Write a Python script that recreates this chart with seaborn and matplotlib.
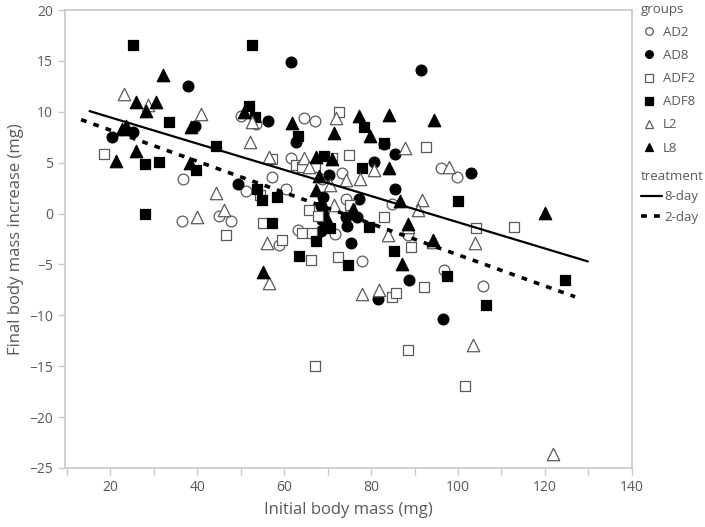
import numpy as np
import pandas as pd
import matplotlib
matplotlib.use('Agg')
import matplotlib.pyplot as plt
from matplotlib.lines import Line2D
from matplotlib.ticker import MultipleLocator
import seaborn as sns

# values
ad2_x = [36.8, 36.4, 44.9, 47.8, 50.0, 53.4, 64.5, 67.1, 61.5, 57.3, 73.4, 51.3, 60.4, 84.9, 74.2,
         88.6, 63.2, 71.8, 58.8, 77.8, 96.1, 99.7, 96.8, 105.7, 68.8]
ad2_y = [3.4, -0.7, -0.2, -0.7, 9.6, 8.8, 9.35, 9.1, 5.5, 3.6, 4.0, 2.2, 2.4, 0.9, 1.4,
         -2.1, -1.65, -2.0, -3.1, -4.7, 4.5, 3.6, -5.5, -7.1, 3.4]

ad8_x = [37.8, 39.4, 25.1, 20.4, 49.4, 61.5, 91.5, 56.3, 62.8, 83.0, 85.5, 80.7, 70.3, 69.0, 85.5,
         77.3, 76.7, 74.2, 74.5, 68.4, 75.3, 88.7, 81.7, 103.0, 96.5, 68.4, 69.0, 68.6, 69.7]
ad8_y = [12.5, 8.6, 8.0, 7.5, 2.9, 14.9, 14.1, 9.1, 7.0, 6.8, 5.85, 5.1, 3.8, 1.6, 2.4,
         1.4, -0.3, -0.3, -1.2, -1.7, -2.9, -6.5, -8.4, 4.0, -10.35, 0.7, 0.1, -0.6, -1.2]

adf2_x = [18.4, 46.5, 72.7, 92.6, 57.2, 62.7, 64.2, 67.1, 71.1, 74.9, 54.4, 83.0, 75.1, 65.7, 67.8,
          89.2, 55.1, 64.2, 66.5, 59.5, 66.1, 72.4, 92.3, 84.9, 85.7, 104.1, 113.0, 67.2, 88.4, 101.7]
adf2_y = [5.9, -2.1, 10.0, 6.5, 5.4, 4.8, 4.6, 4.6, 5.5, 5.8, 1.8, -0.3, 0.8, 0.35, -0.2,
          -3.3, -0.9, -1.9, -1.9, -2.55, -4.6, -4.3, -7.25, -8.2, -7.8, -1.4, -1.3, -15.0, -13.4, -16.9]

adf8_x = [25.1, 33.5, 44.2, 27.9, 31.1, 39.8, 27.9, 52.5, 51.8, 53.2, 78.4, 63.2, 83.0, 69.1, 78.0,
          53.8, 54.9, 58.4, 79.5, 85.3, 57.1, 70.5, 67.3, 63.4, 74.7, 99.9, 97.4, 106.5, 124.7]
adf8_y = [16.6, 9.0, 6.6, 4.9, 5.1, 4.3, 0.0, 16.6, 10.6, 9.5, 8.5, 7.6, 6.9, 5.7, 4.5,
          2.4, 1.3, 1.6, -1.3, -3.7, -0.9, -1.4, -2.7, -4.2, -5.05, 1.2, -6.1, -9.0, -6.5]

l2_x = [23.1, 28.6, 40.8, 44.2, 39.9, 46.1, 52.7, 72.0, 52.1, 87.8, 56.4, 64.5, 65.7, 80.7, 74.2,
        77.4, 70.5, 91.7, 90.9, 71.5, 84.0, 88.5, 56.1, 56.5, 78.0, 81.8, 98.0, 94.2, 104.0, 103.4, 121.8]
l2_y = [11.7, 10.65, 9.8, 2.0, -0.3, 0.3, 9.0, 9.35, 7.0, 6.4, 5.6, 5.5, 4.6, 4.3, 3.3,
        3.4, 2.8, 1.3, 0.3, 0.8, -2.1, -1.3, -2.9, -6.8, -7.9, -7.5, 4.6, -2.8, -2.9, -12.9, -23.6]

l8_x = [25.9, 28.2, 30.5, 32.2, 38.6, 22.7, 23.6, 21.2, 25.8, 38.2, 50.7, 61.8, 77.3, 84.1, 79.7,
        71.5, 67.3, 70.9, 84.2, 68.0, 67.3, 86.7, 75.9, 88.4, 55.1, 87.2, 94.6, 120.0, 94.2, 70.1]
l8_y = [11.0, 10.1, 11.0, 13.6, 8.5, 8.3, 8.6, 5.2, 6.1, 5.0, 10.0, 8.9, 9.6, 9.7, 7.6,
        7.9, 5.6, 5.4, 4.5, 3.7, 2.3, 1.2, 0.4, -1.0, -5.7, -5.0, 9.2, 0.1, -2.6, -0.7]

groups = ['AD2', 'AD8', 'ADF2', 'ADF8', 'L2', 'L8']
group_x = [ad2_x, ad8_x, adf2_x, adf8_x, l2_x, l8_x]
group_y = [ad2_y, ad8_y, adf2_y, adf8_y, l2_y, l8_y]
group_treatment = ['2-day', '8-day', '2-day', '8-day', '2-day', '8-day']
treatments = ['8-day', '2-day']

frames = []
for g, xs, ys, t in zip(groups, group_x, group_y, group_treatment):
    frames.append(pd.DataFrame({'mass': xs, 'increase': ys, 'group': g, 'treatment': t}))
df = pd.concat(frames, ignore_index=True)

sns.set_style('white')
plt.rcParams['font.family'] = ['Open Sans', 'DejaVu Sans']
grey = '#595959'
edge = '#5a5a5a'

styles = {
    'AD2': dict(marker='o', s=60, color='white', edgecolor=edge),
    'AD8': dict(marker='o', s=60, color='black', edgecolor='black'),
    'ADF2': dict(marker='s', s=50, color='white', edgecolor=edge),
    'ADF8': dict(marker='s', s=50, color='black', edgecolor='black'),
    'L2': dict(marker='^', s=80, color='white', edgecolor=edge),
    'L8': dict(marker='^', s=80, color='black', edgecolor='black'),
}
line_styles = {'8-day': dict(ls='-', lw=1.6), '2-day': dict(ls=(0, (1.6, 2.0)), lw=2.6)}

fig = plt.figure(figsize=(7.05, 5.27), dpi=100)
ax = fig.add_axes([0.092, 0.112, 0.804, 0.869])

for g in groups:
    sub = df[df['group'] == g]
    sns.scatterplot(data=sub, x='mass', y='increase', linewidth=0.9, ax=ax, legend=False,
                    zorder=2, **styles[g])

for t in treatments:
    sub = df[df['treatment'] == t]
    slope, icpt = np.polyfit(sub['mass'], sub['increase'], 1)
    pad = 0.05 * (sub['mass'].max() - sub['mass'].min())
    xs = np.array([sub['mass'].min() - pad, sub['mass'].max() + pad])
    ax.plot(xs, slope * xs + icpt, color='black', zorder=3, **line_styles[t])

ax.set_xlim(9.5, 140)
ax.set_ylim(-25, 20)
ax.xaxis.set_minor_locator(MultipleLocator(10))
ax.yaxis.set_major_locator(MultipleLocator(5))
ax.set_xticks([20, 40, 60, 80, 100, 120, 140])
for sp in ax.spines.values():
    sp.set_color('#c8c8c8')
    sp.set_linewidth(1.2)
ax.tick_params(which='both', direction='out', length=5, width=1, color='#c8c8c8',
               labelcolor=grey, labelsize=10, bottom=True, left=True)
ax.set_xlabel('Initial body mass (mg)', fontsize=12, color=grey, labelpad=5)
ax.set_ylabel('Final body mass increase (mg)', fontsize=12, color=grey, labelpad=4)

leg_size = 9.5
group_handles = [Line2D([], [], ls='', marker=styles[g]['marker'], ms=5.5,
                        mfc=styles[g]['color'], mec=styles[g]['edgecolor'], mew=0.9) for g in groups]
leg1 = fig.legend(group_handles, groups, title='groups', loc='upper left',
                  bbox_to_anchor=(0.905, 1.0), frameon=False, fontsize=leg_size, title_fontsize=leg_size,
                  labelcolor=grey, alignment='left', handlelength=1.2, handletextpad=0.5,
                  labelspacing=0.77, borderaxespad=0, borderpad=0.2)
leg1.get_title().set_color(grey)

treat_handles = [Line2D([], [], color='black', **line_styles[t]) for t in treatments]
leg2 = fig.legend(treat_handles, treatments, title='treatment', loc='upper left',
                  bbox_to_anchor=(0.905, 0.683), frameon=False, fontsize=leg_size, title_fontsize=leg_size,
                  labelcolor=grey, alignment='left', handlelength=1.6, handletextpad=0.2,
                  labelspacing=0.58, borderaxespad=0, borderpad=0.2)
leg2.get_title().set_color(grey)

fig.savefig('out.png', dpi=100)
